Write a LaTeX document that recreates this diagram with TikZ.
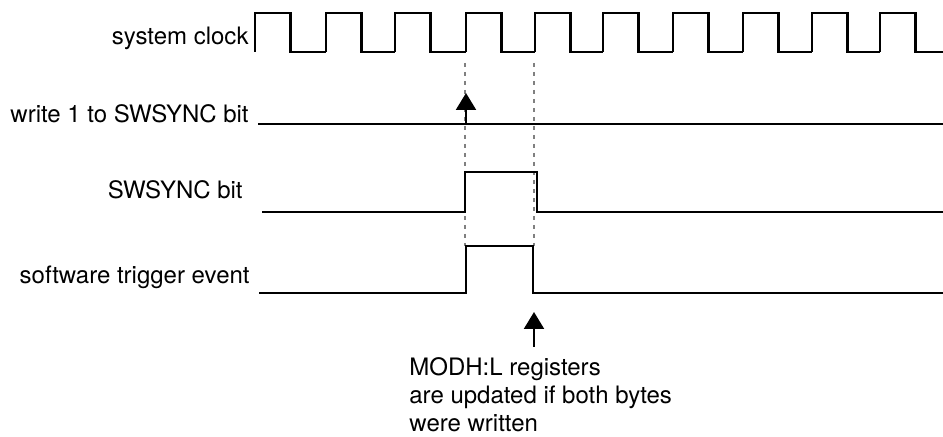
\documentclass[tikz,border=0pt]{standalone}
\usepackage{fontspec}
\setmainfont{TeX Gyre Heros}
\usetikzlibrary{arrows.meta}

\begin{document}
\begin{tikzpicture}[x=0.5pt, y=-0.5pt,
    wave/.style={line width=1.1pt, line join=miter},
    guide/.style={gray, line width=0.8pt, dash pattern=on 2pt off 2.5pt},
    marker/.style={line width=1.1pt, -{Triangle[width=10pt, length=8.5pt]}},
    label/.style={inner sep=0pt, font=\fontsize{12}{14}\selectfont}]
    \useasboundingbox (0,0) rectangle (943,437);

    \node[label, anchor=base east] (clk) at (249,45) {system clock};
    \node[label, anchor=base east] (wr) at (249,123) {write 1 to SWSYNC bit};
    \node[label, anchor=base east] (sw) at (243,199) {SWSYNC bit};
    \node[label, anchor=base east] (trg) at (250,284) {software trigger event};

    \draw[guide] (465,63) -- (465,246);
    \draw[guide] (534,63) -- (534,246);

    \foreach \r/\n in {255/326,326/395,395/466,466/535,535/603,603/673,673/743,743/812,812/880,880/943}
        \draw[wave] (\r,52) -- (\r,13) -- (\r+35.5,13) -- (\r+35.5,52) -- (\n,52);
    \draw[wave] (258,124) -- (943,124);
    \draw[wave] (262,212) -- (465,212) -- (465,172) -- (537,172) -- (537,212) -- (943,212);
    \draw[wave] (259,293) -- (466,293) -- (466,246) -- (533,246) -- (533,293) -- (943,293);

    \coordinate (wrtail) at (466,124);
    \coordinate (wrtip) at (466,93);
    \draw[marker] (wrtail) -- (wrtip);

    \node[label, anchor=north west, align=left] (modh) at (409,357)
        {MODH:L registers\\are updated if both bytes\\were written};
    \coordinate (modtail) at (534,347);
    \coordinate (modtip) at (534,312);
    \draw[marker] (modtail) -- (modtip);
\end{tikzpicture}
\end{document}
